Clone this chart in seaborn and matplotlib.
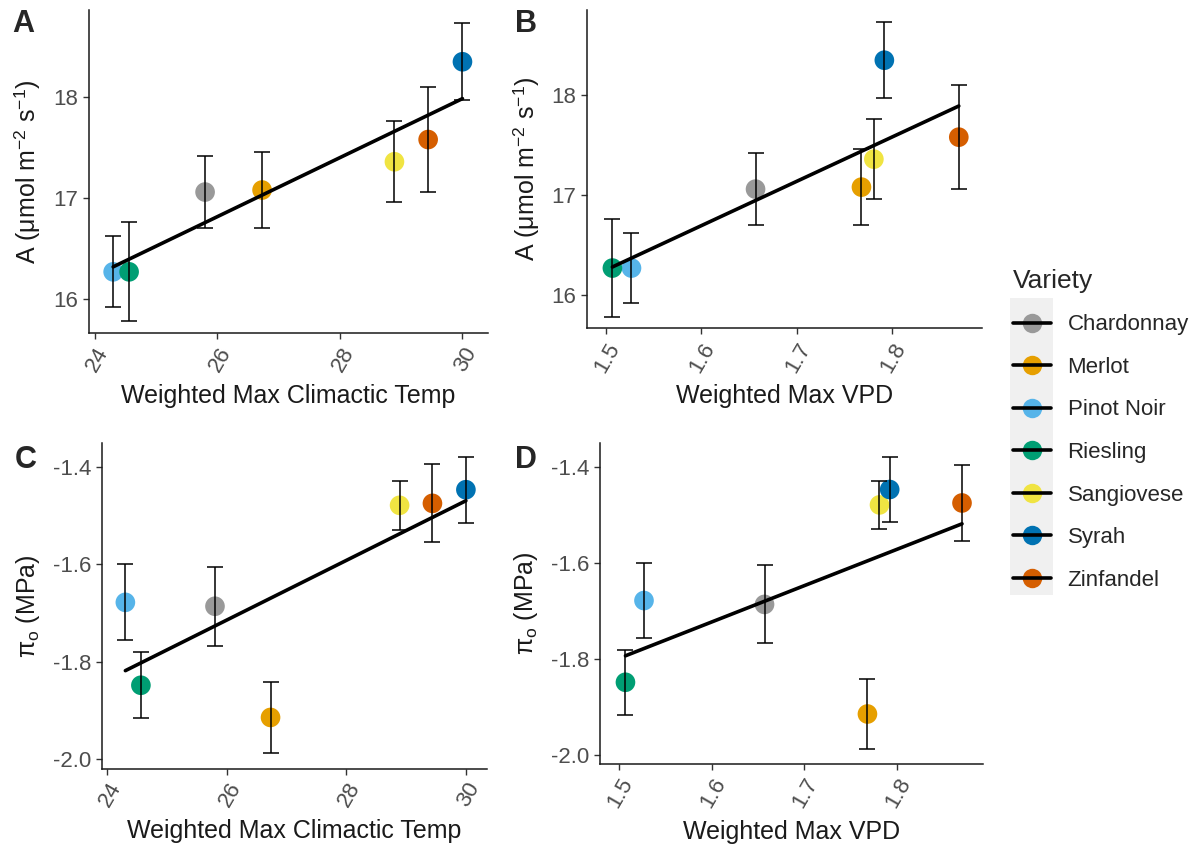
import matplotlib
matplotlib.use("Agg")
import matplotlib.pyplot as plt
import seaborn as sns
import pandas as pd
from matplotlib.lines import Line2D
from matplotlib.legend_handler import HandlerTuple
from matplotlib.patches import Rectangle

# ---------------- data ----------------
varieties = ["Chardonnay", "Merlot", "Pinot Noir", "Riesling", "Sangiovese", "Syrah", "Zinfandel"]
colors = ["#999999", "#E69F00", "#56B4E9", "#009E73", "#F0E442", "#0072B2", "#D55E00"]
temp = [25.80, 26.73, 24.30, 24.56, 28.89, 30.00, 29.44]
vpd = [1.657, 1.768, 1.527, 1.507, 1.781, 1.792, 1.870]
A_mean = [17.06, 17.08, 16.27, 16.27, 17.36, 18.35, 17.58]
A_se = [0.36, 0.38, 0.35, 0.49, 0.40, 0.38, 0.52]
pi_mean = [-1.686, -1.914, -1.678, -1.848, -1.479, -1.447, -1.475]
pi_se = [0.081, 0.072, 0.078, 0.068, 0.050, 0.068, 0.080]

temp_ticks = [24, 26, 28, 30]
vpd_ticks = [1.5, 1.6, 1.7, 1.8]
A_ticks = [16, 17, 18]
pi_ticks = [-2.0, -1.8, -1.6, -1.4]

df = pd.DataFrame({"Variety": varieties, "temp": temp, "vpd": vpd,
                   "A": A_mean, "A_se": A_se, "pi": pi_mean, "pi_se": pi_se})
palette = dict(zip(varieties, colors))

sns.set_theme(style="ticks")
plt.rcParams["font.family"] = ["Liberation Sans", "DejaVu Sans"]
plt.rcParams["axes.unicode_minus"] = False
plt.rcParams["mathtext.fontset"] = "custom"
plt.rcParams["mathtext.rm"] = "Liberation Sans"
plt.rcParams["mathtext.it"] = "Liberation Serif:italic"

fig = plt.figure(figsize=(11.98, 8.55), dpi=100)

A_label = r"A ($\mathregular{\mu}$mol m$^{-2}$ s$^{-1}$)"
pi_label = r"$\mathregular{\pi_o}$ (MPa)"

panels = [
    ("A", [0.074, 0.610, 0.333, 0.378], "temp", "A", "A_se", "Weighted Max Climactic Temp", A_label,
     (23.90, 30.41), (15.66, 18.86), temp_ticks, A_ticks, "{:.0f}", "{:.0f}"),
    ("B", [0.490, 0.616, 0.330, 0.372], "vpd", "A", "A_se", "Weighted Max VPD", A_label,
     (1.4804, 1.8947), (15.667, 18.85), vpd_ticks, A_ticks, "{:.1f}", "{:.0f}"),
    ("C", [0.085, 0.101, 0.3216, 0.381], "temp", "pi", "pi_se", "Weighted Max Climactic Temp", pi_label,
     (23.906, 30.355), (-2.019, -1.351), temp_ticks, pi_ticks, "{:.0f}", "{:.1f}"),
    ("D", [0.5008, 0.107, 0.3197, 0.375], "vpd", "pi", "pi_se", "Weighted Max VPD", pi_label,
     (1.4795, 1.8926), (-2.017, -1.35), vpd_ticks, pi_ticks, "{:.1f}", "{:.1f}"),
]

label_pos = {"A": (0.010, 0.972), "B": (0.430, 0.972), "C": (0.012, 0.462), "D": (0.430, 0.462)}

for (tag, rect, xc, yc, ec, xlab, ylab, xlim, ylim, xt, yt, xf, yf) in panels:
    ax = fig.add_axes(rect)
    sns.scatterplot(data=df, x=xc, y=yc, hue="Variety", palette=palette, s=200,
                    edgecolor="none", ax=ax, legend=False, zorder=2)
    ax.errorbar(df[xc], df[yc], yerr=df[ec], fmt="none", ecolor="black",
                elinewidth=1.1, capsize=6, capthick=1.1, zorder=3)
    sns.regplot(data=df, x=xc, y=yc, scatter=False, ci=None, color="black",
                line_kws={"lw": 2.6, "zorder": 4}, ax=ax, truncate=True)
    ax.set_xlim(*xlim)
    ax.set_ylim(*ylim)
    ax.set_xticks(xt)
    ax.set_xticklabels([xf.format(v) for v in xt], rotation=60, ha="right",
                       va="top", rotation_mode="anchor")
    ax.set_yticks(yt)
    ax.set_yticklabels([yf.format(v) for v in yt])
    ax.tick_params(axis="both", labelsize=16, labelcolor="#4D4D4D", color="#333333",
                   length=4, width=1)
    ax.set_xlabel(xlab, fontsize=18, color="#1a1a1a", labelpad=6)
    ax.set_ylabel(ylab, fontsize=18, color="#1a1a1a", labelpad=8)
    for s in ["top", "right"]:
        ax.spines[s].set_visible(False)
    for s in ["left", "bottom"]:
        ax.spines[s].set_color("#1a1a1a")
        ax.spines[s].set_linewidth(1.1)
    fig.text(*label_pos[tag], tag, fontsize=22, fontweight="bold", ha="left", va="center")

# legend
handles = []
for v, c in zip(varieties, colors):
    pt = Line2D([], [], marker="o", markersize=14, markerfacecolor=c,
                markeredgecolor="none", linestyle="none")
    ln = Line2D([], [], color="black", lw=2.6)
    handles.append((pt, ln))

fig.patches.append(Rectangle((0.843, 0.304), 0.036, 0.347, transform=fig.transFigure,
                             facecolor="#F0F0F0", edgecolor="none", zorder=0))
leg = fig.legend(handles, varieties, handler_map={tuple: HandlerTuple(ndivide=1, pad=0)},
                 loc="upper left", bbox_to_anchor=(0.829, 0.709), frameon=False,
                 fontsize=16, title="Variety", title_fontsize=19, labelspacing=0.97,
                 handlelength=1.7, handletextpad=0.75, alignment="left")

fig.savefig("out.png", dpi=100)
